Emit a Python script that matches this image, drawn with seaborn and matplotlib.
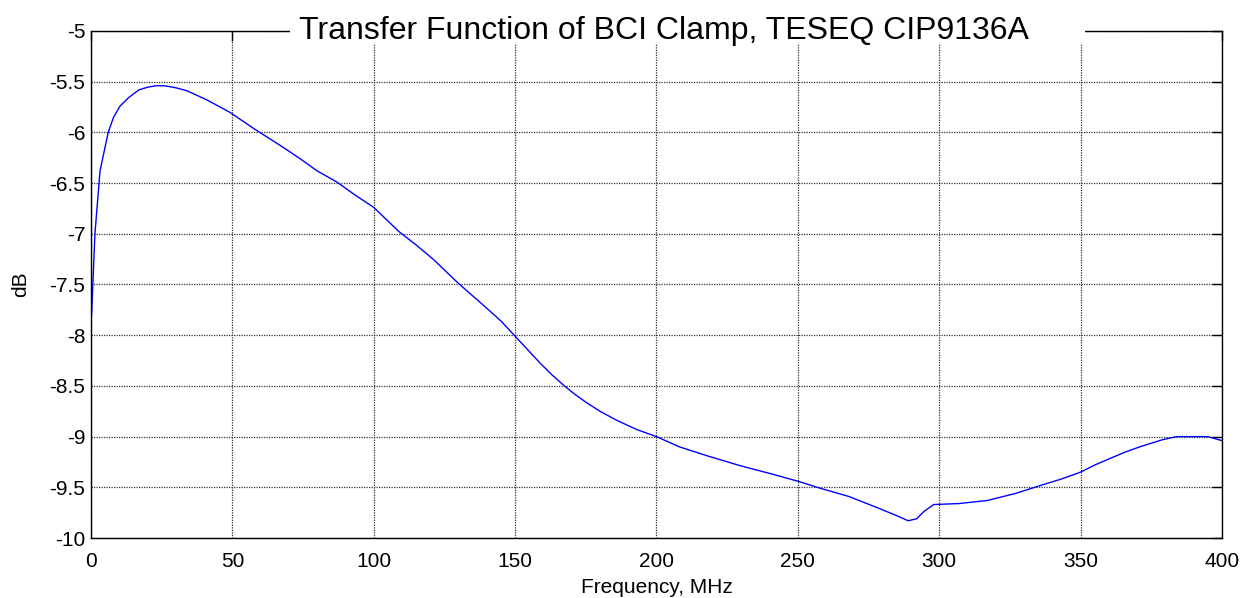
import numpy as np
import pandas as pd
import matplotlib
matplotlib.use("Agg")
import matplotlib.pyplot as plt
import seaborn as sns

# Transfer function (MHz, dB)
freq_mhz = [0.2, 1.4, 3.2, 6.1, 8.0, 10.3, 13.2, 17, 20, 23, 26, 30, 34, 41, 49, 58,
            67, 74, 80, 87, 93, 100, 109, 115, 121, 130, 139, 145, 149, 154, 159,
            163, 167, 171, 175, 180, 186, 193, 200, 208, 218, 230, 241, 250, 258,
            268, 278, 285, 289, 292, 294.5, 298, 307, 317, 327, 336, 343, 350, 355,
            360, 366, 371, 379, 384, 395, 400]
gain_db = [-7.81, -7.0, -6.38, -6.0, -5.85, -5.74, -5.66, -5.58, -5.555, -5.54, -5.54,
           -5.56, -5.59, -5.68, -5.80, -5.97, -6.13, -6.26, -6.38, -6.49, -6.61, -6.74,
           -6.98, -7.11, -7.25, -7.49, -7.71, -7.86, -7.98, -8.13, -8.28, -8.39, -8.49,
           -8.58, -8.66, -8.75, -8.84, -8.93, -9.0, -9.10, -9.19, -9.29, -9.37, -9.44,
           -9.51, -9.59, -9.70, -9.78, -9.83, -9.81, -9.74, -9.67, -9.66, -9.63, -9.56,
           -9.48, -9.42, -9.35, -9.28, -9.22, -9.15, -9.10, -9.03, -9.0, -9.0, -9.04]

x_ticks = [0, 50, 100, 150, 200, 250, 300, 350, 400]
y_ticks = [-10, -9.5, -9, -8.5, -8, -7.5, -7, -6.5, -6, -5.5, -5]
y_tick_labels = ['-10', '-9.5', '-9', '-8.5', '-8', '-7.5', '-7', '-6.5', '-6', '-5.5', '-5']

df = pd.DataFrame({'Frequency': freq_mhz, 'dB': gain_db})

sns.set_theme(style='white')
plt.rcParams['font.family'] = ['Liberation Sans', 'DejaVu Sans']
plt.rcParams['text.color'] = 'black'

fig = plt.figure(figsize=(12.41, 5.98), dpi=100, facecolor='white')
ax = fig.add_axes([0.0733, 0.1003, 0.9114, 0.8479])

sns.lineplot(data=df, x='Frequency', y='dB', color='#0000ff', linewidth=1.0, ax=ax)

ax.set_xlim(0, 400)
ax.set_ylim(-10, -5)
ax.set_xticks(x_ticks)
ax.set_yticks(y_ticks)
ax.set_yticklabels(y_tick_labels)
ax.grid(True, color='0.2', linestyle=(0, (1, 1)), linewidth=0.9)
ax.tick_params(direction='in', length=7, width=1, top=True, right=True,
               labelsize=15, colors='black')
ax.tick_params(axis='x', pad=10)
ax.tick_params(axis='y', pad=4)
for s in ax.spines.values():
    s.set_color('black')
    s.set_linewidth(1.0)
    s.set_visible(True)

ax.set_xlabel('Frequency, MHz', fontsize=15, labelpad=5, color='black')
ax.set_ylabel('dB', fontsize=15, labelpad=14, color='black')

# white strip behind the title hides the top frame, like the MATLAB export
ax.add_patch(plt.Rectangle((0.176, 0.975), 0.703, 0.08, transform=ax.transAxes,
                           facecolor='white', edgecolor='none', clip_on=False, zorder=4))
ax.text(0.507, 0.984, 'Transfer Function of BCI Clamp, TESEQ CIP9136A', fontsize=23,
        ha='center', va='baseline', color='black', transform=ax.transAxes, zorder=5)

fig.savefig('out.png', dpi=100, facecolor='white')
